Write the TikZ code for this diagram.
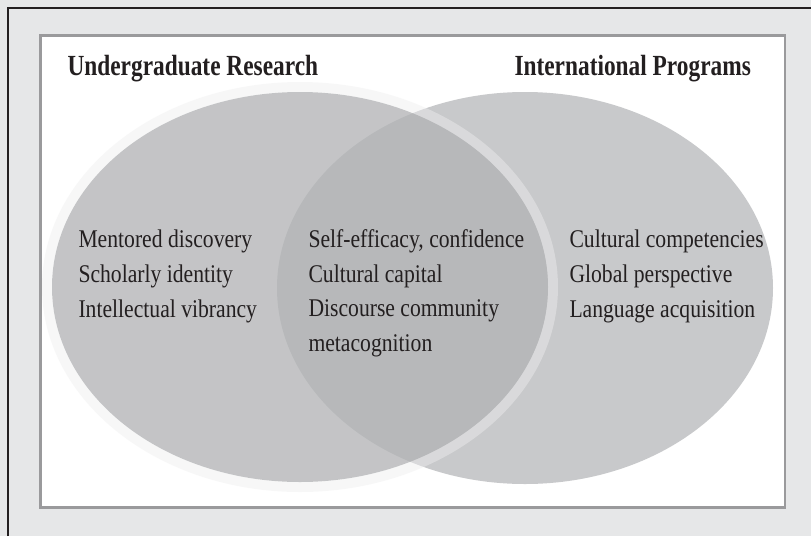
\documentclass[tikz,border=0pt]{standalone}
\usepackage{fontspec}
\newfontfamily\vennbody[FakeStretch=0.85]{Liberation Serif}
\newfontfamily\vennhead[FakeStretch=0.8]{Liberation Serif}
\definecolor{pagegray}{RGB}{230,231,232}
\definecolor{framegray}{RGB}{154,154,156}
\definecolor{rightfill}{RGB}{200,201,203}
\definecolor{leftfill}{RGB}{178,179,181}
\definecolor{ringgray}{RGB}{238,238,239}
\definecolor{inkblack}{RGB}{35,31,32}
\tikzset{every picture/.style={line width=0.75pt}}
\tikzset{
  headtext/.style={anchor=base west,inner sep=0pt,text=inkblack,font=\vennhead\bfseries\fontsize{21.9}{26}\selectfont},
  bodytext/.style={anchor=base west,inner sep=0pt,align=left,text=inkblack,font=\vennbody\fontsize{19.1}{25.9}\selectfont}
}

\begin{document}
\begin{tikzpicture}[x=0.75pt,y=0.75pt,yscale=-1,xscale=1]
\useasboundingbox (0,0) rectangle (811,536);

%Shape: Rectangle [background]
\fill [pagegray] (0,0) rectangle (811,536);
%Straight Lines [outer frame]
\draw [inkblack, line width=1.6pt] (8,536) -- (8,8) -- (811,8);
%Shape: Rectangle [inner panel]
\draw [framegray, fill=white, line width=1.9pt] (40.5,35.5) rectangle (785,507.5);

%Shape: Ellipse [right circle]
\fill [rightfill] (525,288) ellipse [x radius=248, y radius=196];
%Shape: Ellipse [ring of left circle]
\draw [ringgray, draw opacity=0.45, line width=7.5pt] (300,287) ellipse [x radius=253, y radius=200];
%Shape: Ellipse [left circle]
\fill [leftfill, fill opacity=0.764] (300,287) ellipse [x radius=248, y radius=195];

% Text Node
\node [headtext] (urhead) at (67,75) {Undergraduate Research};
% Text Node
\node [headtext] (iphead) at (514,75) {International Programs};
% Text Node (base is the last line)
\node [bodytext] (urlist) at (78,317) {Mentored discovery\\Scholarly identity\\Intellectual vibrancy};
% Text Node
\node [bodytext] (bothlist) at (308,351.5) {Self-efficacy, confidence\\Cultural capital\\Discourse community\\metacognition};
% Text Node
\node [bodytext] (iplist) at (569,317) {Cultural competencies\\Global perspective\\Language acquisition};

\end{tikzpicture}
\end{document}
